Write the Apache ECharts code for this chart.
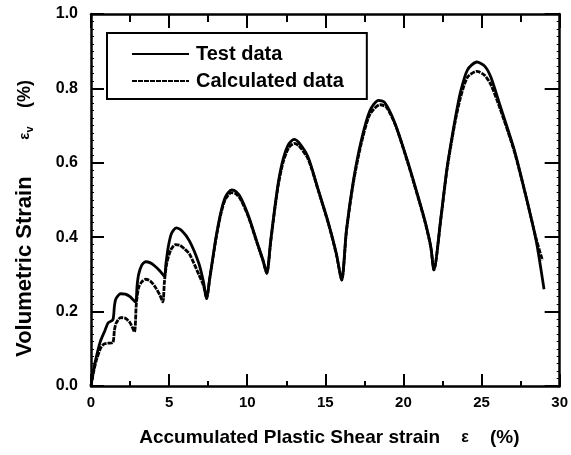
<!DOCTYPE html>
<html>
<head>
<meta charset="utf-8">
<script src="https://cdn.jsdelivr.net/npm/echarts@6/dist/echarts.min.js"></script>
<style>
  html, body { margin: 0; padding: 0; background: #fff; }
  #chart { width: 571px; height: 455px; }
</style>
</head>
<body>
<div id="chart"></div>
<script>
// measured test curve [shear strain %, volumetric strain %]
const testData = [
  [0, 0], [0.15, 0.04], [0.35, 0.08], [0.6, 0.12], [0.9, 0.15], [1.1, 0.17], [1.4, 0.178],
  [1.5, 0.215], [1.6, 0.235], [1.9, 0.248], [2.2, 0.247], [2.5, 0.24], [2.85, 0.226],
  [2.95, 0.27], [3.05, 0.3], [3.25, 0.325], [3.5, 0.334], [3.8, 0.331], [4.1, 0.322], [4.4, 0.31], [4.7, 0.295],
  [4.8, 0.33], [4.95, 0.375], [5.15, 0.41], [5.45, 0.425], [5.8, 0.418], [6.3, 0.39], [6.9, 0.33], [7.2, 0.28], [7.4, 0.235],
  [7.6, 0.29], [7.8, 0.345], [8.0, 0.4], [8.3, 0.465], [8.6, 0.508], [9.0, 0.527], [9.3, 0.522], [9.6, 0.505],
  [10.1, 0.455], [10.6, 0.39], [11.0, 0.34], [11.25, 0.303],
  [11.5, 0.39], [11.75, 0.475], [12.0, 0.55], [12.3, 0.61], [12.65, 0.65], [13.0, 0.663], [13.3, 0.655],
  [13.9, 0.615], [14.55, 0.527], [15.2, 0.438], [15.7, 0.357], [16.05, 0.285],
  [16.35, 0.419], [16.8, 0.553], [17.3, 0.66], [17.85, 0.74], [18.4, 0.768], [18.8, 0.762], [19.45, 0.707],
  [20.3, 0.6], [20.9, 0.515], [21.4, 0.44], [21.75, 0.375], [21.95, 0.312],
  [22.4, 0.454], [22.8, 0.589], [23.3, 0.715], [23.65, 0.79], [24.1, 0.85], [24.7, 0.871], [25.2, 0.86],
  [25.6, 0.83], [26.2, 0.752], [27.1, 0.634], [27.9, 0.5], [28.5, 0.39], [29.0, 0.26]
];

// model prediction
const calcData = [
  [0, 0], [0.15, 0.035], [0.35, 0.07], [0.6, 0.1], [0.8, 0.112], [1.1, 0.115], [1.4, 0.117],
  [1.5, 0.15], [1.6, 0.168], [1.9, 0.184], [2.2, 0.182], [2.5, 0.17], [2.78, 0.146],
  [2.9, 0.22], [3.05, 0.265], [3.25, 0.28], [3.5, 0.287], [3.8, 0.282], [4.1, 0.267], [4.4, 0.245], [4.6, 0.226],
  [4.7, 0.28], [4.85, 0.33], [5.1, 0.365], [5.4, 0.38], [5.7, 0.378], [6.0, 0.368], [6.3, 0.355], [6.9, 0.3], [7.2, 0.27], [7.4, 0.235],
  [7.6, 0.288], [7.8, 0.342], [8.0, 0.395], [8.3, 0.46], [8.6, 0.502], [9.0, 0.52], [9.3, 0.516], [9.6, 0.5],
  [10.1, 0.452], [10.6, 0.388], [11.0, 0.338], [11.25, 0.303],
  [11.5, 0.386], [11.75, 0.47], [12.0, 0.543], [12.3, 0.602], [12.65, 0.64], [13.0, 0.652], [13.3, 0.646],
  [13.9, 0.61], [14.55, 0.525], [15.2, 0.436], [15.7, 0.355], [16.05, 0.285],
  [16.35, 0.415], [16.8, 0.548], [17.3, 0.652], [17.85, 0.73], [18.5, 0.756], [18.9, 0.75], [19.5, 0.7],
  [20.3, 0.597], [20.9, 0.512], [21.4, 0.438], [21.75, 0.373], [21.95, 0.312],
  [22.4, 0.45], [22.8, 0.585], [23.3, 0.708], [23.65, 0.775], [24.1, 0.83], [24.7, 0.846], [25.2, 0.835],
  [25.6, 0.81], [26.2, 0.744], [27.1, 0.63], [27.9, 0.5], [28.5, 0.395], [28.9, 0.338]
];

const xRange = [0, 30];
const yRange = [0, 1.0];
const seriesNames = ['Test data', 'Calculated data'];

const font = '"Liberation Sans", Arial, sans-serif';
const axisLine = { show: true, onZero: false, lineStyle: { color: '#000', width: 2.5 } };

const chart = echarts.init(document.getElementById('chart'));

chart.setOption({
  animation: false,
  backgroundColor: '#fff',
  textStyle: { fontFamily: font, color: '#000' },
  grid: { left: 91, right: 8, top: 14, bottom: 69 },
  legend: {
    orient: 'vertical',
    left: 107,
    top: 33,
    padding: [11, 23, 8, 24],
    itemWidth: 57,
    itemHeight: 12,
    itemGap: 7,
    borderColor: '#000',
    borderWidth: 2,
    borderRadius: 0,
    backgroundColor: '#fff',
    itemStyle: { opacity: 0 },
    data: seriesNames,
    textStyle: { fontFamily: font, fontSize: 20, fontWeight: 'bold', color: '#000', padding: [0, 0, 0, 2] }
  },
  xAxis: [
    {
      type: 'value',
      min: xRange[0],
      max: xRange[1],
      interval: 5,
      position: 'bottom',
      name: 'Accumulated Plastic Shear strain    {e|ε}    (%)',
      nameLocation: 'middle',
      nameGap: 42,
      nameTextStyle: {
        fontFamily: font, fontSize: 19, fontWeight: 'bold', color: '#000',
        padding: [0, 0, 0, 8],
        rich: { e: { fontFamily: font, fontSize: 16, fontWeight: 'bold', color: '#000' } }
      },
      axisLine: axisLine,
      axisTick: { show: true, inside: true, length: 12, lineStyle: { color: '#000', width: 2 } },
      minorTick: { show: true, splitNumber: 2, length: 5, lineStyle: { color: '#000', width: 2 } },
      axisLabel: { fontFamily: font, fontSize: 15, fontWeight: 'bold', color: '#000', margin: 9 },
      splitLine: { show: false }
    },
    {
      type: 'value',
      min: xRange[0],
      max: xRange[1],
      interval: 5,
      position: 'top',
      axisLine: axisLine,
      axisTick: { show: true, inside: true, length: 14, lineStyle: { color: '#000', width: 2 } },
      minorTick: { show: true, splitNumber: 2, length: 8, lineStyle: { color: '#000', width: 2 } },
      axisLabel: { show: false },
      splitLine: { show: false }
    }
  ],
  yAxis: [
    {
      type: 'value',
      min: yRange[0],
      max: yRange[1],
      interval: 0.2,
      position: 'left',
      name: 'Volumetric Strain      {e|ε}{v|v}   {p|(%)}',
      nameLocation: 'middle',
      nameGap: 55,
      nameTextStyle: {
        fontFamily: font, fontSize: 22, fontWeight: 'bold', color: '#000',
        padding: [0, 37, 0, 0],
        rich: {
          e: { fontFamily: font, fontSize: 15, fontWeight: 'bold', color: '#000' },
          v: { fontFamily: font, fontSize: 11, fontWeight: 'bold', color: '#000', padding: [10, 0, 0, 0] },
          p: { fontFamily: font, fontSize: 18, fontWeight: 'bold', color: '#000' }
        }
      },
      axisLine: axisLine,
      axisTick: { show: true, inside: true, length: 13, lineStyle: { color: '#000', width: 2 } },
      minorTick: { show: true, splitNumber: 10, length: 3, lineStyle: { color: '#000', width: 1 } },
      axisLabel: {
        fontFamily: font, fontSize: 16, fontWeight: 'bold', color: '#000', margin: 13,
        formatter: v => v.toFixed(1)
      },
      splitLine: { show: false }
    },
    {
      type: 'value',
      min: yRange[0],
      max: yRange[1],
      interval: 0.2,
      position: 'right',
      axisLine: axisLine,
      axisTick: { show: true, inside: true, length: 15, lineStyle: { color: '#000', width: 2 } },
      minorTick: { show: true, splitNumber: 10, length: 3, lineStyle: { color: '#000', width: 1 } },
      axisLabel: { show: false },
      splitLine: { show: false }
    }
  ],
  series: [
    {
      name: seriesNames[0],
      type: 'line',
      data: testData,
      symbol: 'none',
      smooth: 0.25,
      lineStyle: { color: '#000', width: 2.8 },
      itemStyle: { color: '#000' }
    },
    {
      name: seriesNames[1],
      type: 'line',
      data: calcData,
      symbol: 'none',
      smooth: 0.25,
      lineStyle: { color: '#000', width: 2.8, type: [5, 1] },
      itemStyle: { color: '#000' }
    }
  ]
});
</script>
</body>
</html>
